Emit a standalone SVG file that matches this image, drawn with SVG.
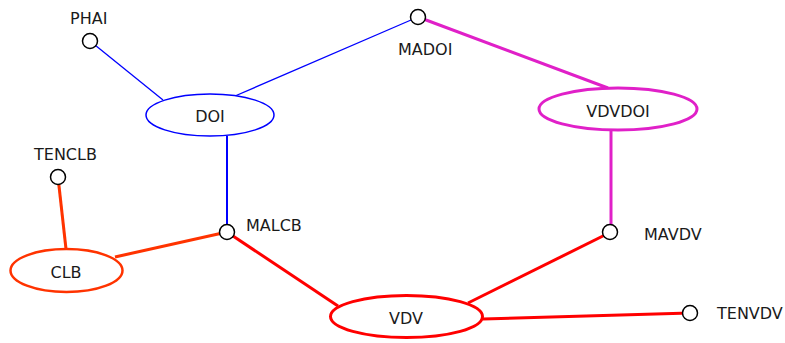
<svg xmlns="http://www.w3.org/2000/svg" width="785" height="343" viewBox="0 0 785 343">
  <style>
    text { font-family: "DejaVu Sans", Verdana, sans-serif; font-size: 16px; fill: #1a1a1a; }
    .mid { text-anchor: middle; }
    .attr { fill: #ffffff; stroke: #000000; stroke-width: 1.5; }
    .ent { fill: #ffffff; }
    .blue { stroke: #0000ff; }
    .mag { stroke: #e020c8; }
    .red { stroke: #ff0000; }
    .org { stroke: #ff3300; }
    #edges line { fill: none; }
  </style>

  <!-- connectors -->
  <g id="edges">
    <line class="blue" x1="90" y1="41" x2="163" y2="100" stroke-width="1.3"/>
    <line class="blue" x1="418" y1="17" x2="235" y2="96" stroke-width="1.3"/>
    <line class="blue" x1="227" y1="136" x2="227" y2="232" stroke-width="2"/>
    <line class="mag" x1="418" y1="17" x2="608" y2="88" stroke-width="3"/>
    <line class="mag" x1="611" y1="130" x2="611" y2="232" stroke-width="3"/>
    <line class="org" x1="58" y1="177" x2="66" y2="249" stroke-width="3"/>
    <line class="org" x1="115" y1="257" x2="227" y2="232" stroke-width="3"/>
    <line class="red" x1="227" y1="232" x2="338" y2="306" stroke-width="3"/>
    <line class="red" x1="468" y1="303" x2="611" y2="232" stroke-width="3"/>
    <line class="red" x1="483" y1="319" x2="690" y2="313" stroke-width="3"/>
  </g>

  <!-- entities -->
  <g id="DOI">
    <ellipse class="ent blue" cx="210" cy="115" rx="64" ry="21" stroke-width="1.5"/>
    <text class="mid" x="210" y="122">DOI</text>
  </g>
  <g id="VDVDOI">
    <ellipse class="ent mag" cx="618" cy="109" rx="79" ry="21" stroke-width="3"/>
    <text class="mid" x="618" y="117">VDVDOI</text>
  </g>
  <g id="CLB">
    <ellipse class="ent org" cx="66.5" cy="270.5" rx="56" ry="21.5" stroke-width="2.5"/>
    <text class="mid" x="66" y="278">CLB</text>
  </g>
  <g id="VDV">
    <ellipse class="ent red" cx="406.5" cy="316.5" rx="76" ry="21" stroke-width="3"/>
    <text class="mid" x="406" y="324">VDV</text>
  </g>

  <!-- attributes -->
  <g id="PHAI">
    <circle class="attr" cx="90" cy="41" r="7.5"/>
    <text x="70" y="24">PHAI</text>
  </g>
  <g id="MADOI">
    <circle class="attr" cx="418" cy="17" r="7.5"/>
    <text x="398" y="55">MADOI</text>
  </g>
  <g id="TENCLB">
    <circle class="attr" cx="58" cy="177" r="7.5"/>
    <text x="34" y="160">TENCLB</text>
  </g>
  <g id="MALCB">
    <circle class="attr" cx="227" cy="232" r="7.5"/>
    <text x="246" y="231">MALCB</text>
  </g>
  <g id="MAVDV">
    <circle class="attr" cx="610" cy="232" r="7.5"/>
    <text x="644" y="240">MAVDV</text>
  </g>
  <g id="TENVDV">
    <circle class="attr" cx="690" cy="313" r="7.5"/>
    <text x="717" y="319">TENVDV</text>
  </g>
</svg>
